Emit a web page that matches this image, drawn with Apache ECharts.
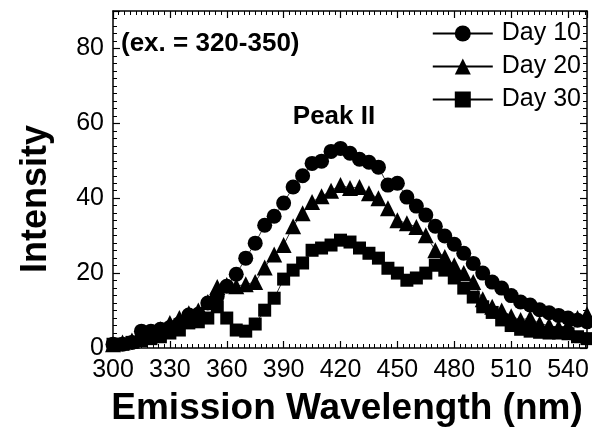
<!DOCTYPE html>
<html><head><meta charset="utf-8">
<script src="https://cdn.jsdelivr.net/npm/echarts@6/dist/echarts.min.js"></script>
<style>html,body{margin:0;padding:0;background:#fff}#c{width:592px;height:428px}</style>
</head><body><div id="c"></div>
<script>
const wavelengths = [300,305,310,315,320,325,330,335,340,345,350,355,360,365,370,375,380,385,390,395,400,405,410,415,420,425,430,435,440,445,450,455,460,465,470,475,480,485,490,495,500,505,510,515,520,525,530,535,540,545,550];
const day10 = [1,1,1.5,4.5,4.5,5,5.5,6.5,8.8,9,12,13.9,16.5,19.7,24,28,32.8,35.2,38.7,43,46,49.3,49.9,52.5,53.3,52,50.4,49.6,48.3,43.5,44,40.3,37.9,35.5,32.5,29.9,27.7,25.3,22.6,20,17.6,16,14,12.3,11.5,10.2,9.4,8.7,8,7.4,7];
const day20 = [1,1.5,2,3,4,5,6.7,8,9.3,10,12.3,16.3,16.8,16.5,17,17.6,21.5,25,27.5,32.5,36,39,40.5,42,43.5,42.7,43,41.3,40,37.3,34.1,33.3,32.3,30.1,26.1,24.3,22.1,20,17.6,13,11,10,8.5,7.5,8,6.5,6,5.5,6,8,9];
const day30 = [1,1,1.5,2,2.5,3,4,4.8,6.7,7,8,11,8,4.8,4.5,6.4,10.1,13.3,18.4,20.8,22.7,26.1,26.7,27.5,28.8,28.3,26.7,25.3,24,21.3,20,18.1,18.7,20,22.1,20.8,18.7,16,13.6,11,9.5,7.5,6,5,4.5,4.2,4,4,3.8,3,2.5];
const seriesNames = ['Day 10','Day 20','Day 30'];
const xTicks = [300,330,360,390,420,450,480,510,540];
const yTicks = [0,20,40,60,80];

const FONT = '"Liberation Sans", Arial, sans-serif';
const chart = echarts.init(document.getElementById('c'), null, {renderer:'canvas'});
const pair = arr => wavelengths.map((w,i)=>[w,arr[i]]);
const mkSeries = (name, data, symbol, size) => ({
  name, type:'line', data: pair(data), symbol, symbolSize:size,
  showAllSymbol:true, clip:true, animation:false,
  lineStyle:{color:'#000', width:0.8}, itemStyle:{color:'#000'},
  emphasis:{disabled:true}
});
const axisCommon = () => ({
  axisLine:{show:true, onZero:false, lineStyle:{color:'#000', width:1.5}},
  axisTick:{show:true, inside:true, length:7, lineStyle:{color:'#000', width:1.2}},
  minorTick:{show:true, splitNumber:10, length:4, lineStyle:{color:'#000', width:1}},
  splitLine:{show:false}
});
chart.setOption({
  backgroundColor:'#fff',
  animation:false,
  grid:{left:113, right:5, top:11, bottom:80},
  xAxis:[
    Object.assign({type:'value', min:300, max:550, interval:30, position:'bottom',
      axisLabel:{color:'#000', fontFamily:FONT, fontSize:25, margin:10,
        formatter: v => xTicks.includes(v) ? String(v) : ''}}, axisCommon()),
    Object.assign({type:'value', min:300, max:550, interval:30, position:'top',
      axisLabel:{show:false}}, axisCommon())
  ],
  yAxis:[
    Object.assign({type:'value', min:0, max:90, interval:20, position:'left',
      axisLabel:{color:'#000', fontFamily:FONT, fontSize:25, margin:9,
        formatter: v => yTicks.includes(v) ? String(v) : ''}}, axisCommon()),
    Object.assign({type:'value', min:0, max:90, interval:20, position:'right',
      axisLabel:{show:false}}, axisCommon())
  ],
  legend:{
    right:6, top:16, orient:'vertical', itemGap:8,
    itemWidth:60, itemHeight:20,
    textStyle:{color:'#000', fontFamily:FONT, fontSize:25, padding:[0,0,0,4]},
    data: seriesNames, selectedMode:false
  },
  series:[
    mkSeries(seriesNames[0], day10, 'circle', 15),
    mkSeries(seriesNames[1], day20, 'triangle', 16),
    mkSeries(seriesNames[2], day30, 'rect', 13)
  ],
  graphic:[
    {type:'text', x:121, y:44, style:{text:'(ex. = 320-350)', fill:'#000', verticalAlign:'middle', font:'bold 26px "Liberation Sans", Arial, sans-serif'}},
    {type:'text', x:334, y:117, style:{text:'Peak II', fill:'#000', align:'center', verticalAlign:'middle', font:'bold 26px "Liberation Sans", Arial, sans-serif'}},
    {type:'text', x:347, y:409, style:{text:'Emission Wavelength (nm)', fill:'#000', align:'center', verticalAlign:'middle', font:'bold 37px "Liberation Sans", Arial, sans-serif'}},
    {type:'text', x:36, y:199, rotation:Math.PI/2, style:{text:'Intensity', fill:'#000', align:'center', verticalAlign:'middle', font:'bold 36px "Liberation Sans", Arial, sans-serif'}}
  ]
});
</script></body></html>
